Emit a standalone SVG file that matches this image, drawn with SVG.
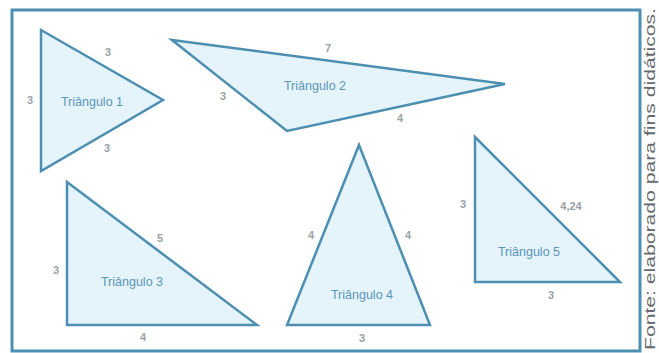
<svg xmlns="http://www.w3.org/2000/svg" width="659" height="353" viewBox="0 0 659 353">
<style>
.tri{fill:#e5f3fa;stroke:#4d8fb0;stroke-width:2.5;stroke-linejoin:miter}
.num{font-family:"Liberation Sans",Arial,sans-serif;font-size:11px;font-weight:bold;fill:#9aa1a6;text-anchor:middle}
.lbl{font-family:"Liberation Sans",Arial,sans-serif;font-size:12.5px;fill:#5b96b8;text-anchor:middle}
.src{font-family:"Liberation Sans",Arial,sans-serif;font-size:15px;fill:#66696c}
</style>
<rect x="0" y="0" width="659" height="353" fill="#ffffff"/>
<rect id="frame" x="12" y="10" width="628" height="341" fill="none" stroke="#4d8fb0" stroke-width="3"/>
<g id="t1">
<polygon class="tri" points="41,30 163,100 41,171"/>
<text class="num" x="30" y="104">3</text>
<text class="num" x="108" y="56">3</text>
<text class="num" x="107" y="152">3</text>
<text class="lbl" x="92" y="106">Triângulo 1</text>
</g>
<g id="t2">
<polygon class="tri" points="172,40 505,84 287,131"/>
<text class="num" x="328" y="52">7</text>
<text class="num" x="223" y="100">3</text>
<text class="num" x="400" y="122">4</text>
<text class="lbl" x="315" y="90">Triângulo 2</text>
</g>
<g id="t3">
<polygon class="tri" points="67,182 67,325 257,325"/>
<text class="num" x="160" y="242">5</text>
<text class="num" x="56" y="274">3</text>
<text class="num" x="143" y="341">4</text>
<text class="lbl" x="132" y="286">Triângulo 3</text>
</g>
<g id="t4">
<polygon class="tri" points="359,145 430,325 287,325"/>
<text class="num" x="311" y="239">4</text>
<text class="num" x="408" y="239">4</text>
<text class="num" x="362" y="342">3</text>
<text class="lbl" x="362" y="299">Triângulo 4</text>
</g>
<g id="t5">
<polygon class="tri" points="475,137 620,282 475,282"/>
<text class="num" x="463" y="208">3</text>
<text class="num" x="571" y="210">4,24</text>
<text class="num" x="551" y="299">3</text>
<text class="lbl" x="529" y="256">Triângulo 5</text>
</g>
<text class="src" transform="translate(655,350) rotate(-90)" x="0" y="0" textLength="342" lengthAdjust="spacingAndGlyphs">Fonte: elaborado para fins didáticos.</text>
</svg>
